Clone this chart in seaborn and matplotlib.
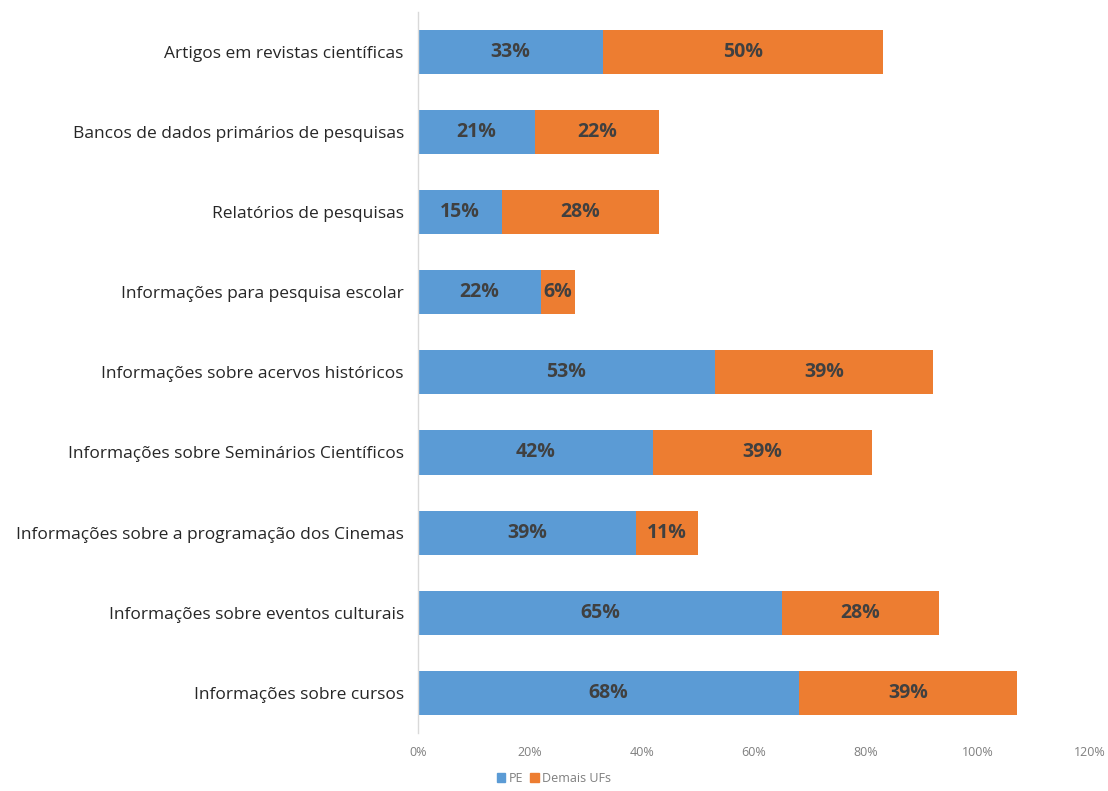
import matplotlib
matplotlib.use("Agg")
import matplotlib.pyplot as plt
import seaborn as sns
import pandas as pd
from matplotlib.patches import Patch

categories = [
    "Artigos em revistas científicas",
    "Bancos de dados primários de pesquisas",
    "Relatórios de pesquisas",
    "Informações para pesquisa escolar",
    "Informações sobre acervos históricos",
    "Informações sobre Seminários Científicos",
    "Informações sobre a programação dos Cinemas",
    "Informações sobre eventos culturais",
    "Informações sobre cursos",
]
pe = [33, 21, 15, 22, 53, 42, 39, 65, 68]
demais = [50, 22, 28, 6, 39, 39, 11, 28, 39]
series_names = ["PE", "Demais UFs"]
xticks = [0, 20, 40, 60, 80, 100, 120]

blue = "#5B9BD5"
orange = "#ED7D31"

df = pd.DataFrame({"cat": categories, "pe": pe, "demais": demais})
df["total"] = df["pe"] + df["demais"]

sns.set_theme(style="white")
plt.rcParams["font.family"] = ["Open Sans", "DejaVu Sans"]

fig = plt.figure(figsize=(11.08, 7.91), dpi=100)
ax = fig.add_axes([0.377, 0.0733, 0.607, 0.912])

sns.barplot(data=df, x="total", y="cat", color=orange, orient="h", width=0.55,
            saturation=1, linewidth=0, ax=ax)
sns.barplot(data=df, x="pe", y="cat", color=blue, orient="h", width=0.55,
            saturation=1, linewidth=0, ax=ax)

for i, (p, d) in enumerate(zip(pe, demais)):
    ax.text(p / 2, i, f"{p}%", ha="center", va="center", fontsize=14,
            fontweight="bold", color="#404040")
    ax.text(p + d / 2, i, f"{d}%", ha="center", va="center", fontsize=14,
            fontweight="bold", color="#404040")

ax.set_xlim(0, 120)
ax.set_ylim(8.5, -0.5)
ax.set_xticks(xticks)
ax.set_xticklabels([f"{t}%" for t in xticks], fontsize=9, color="#7f7f7f")
ax.tick_params(axis="y", labelsize=12.5, labelcolor="#262626", length=0, pad=10)
ax.tick_params(axis="x", length=0, pad=9)
ax.set_xlabel("")
ax.set_ylabel("")
for s in ["top", "right", "bottom"]:
    ax.spines[s].set_visible(False)
ax.spines["left"].set_color("#d9d9d9")
ax.spines["left"].set_linewidth(1)
ax.grid(False)

handles = [Patch(color=blue, label=series_names[0]),
           Patch(color=orange, label=series_names[1])]
fig.legend(handles=handles, loc="center", bbox_to_anchor=(0.5, 0.016), ncol=2,
           frameon=False, fontsize=9, handlelength=0.7, handleheight=0.7,
           handletextpad=0.3, columnspacing=0.5, labelcolor="#7f7f7f",
           borderpad=0.1)

fig.savefig("out.png", dpi=100)
